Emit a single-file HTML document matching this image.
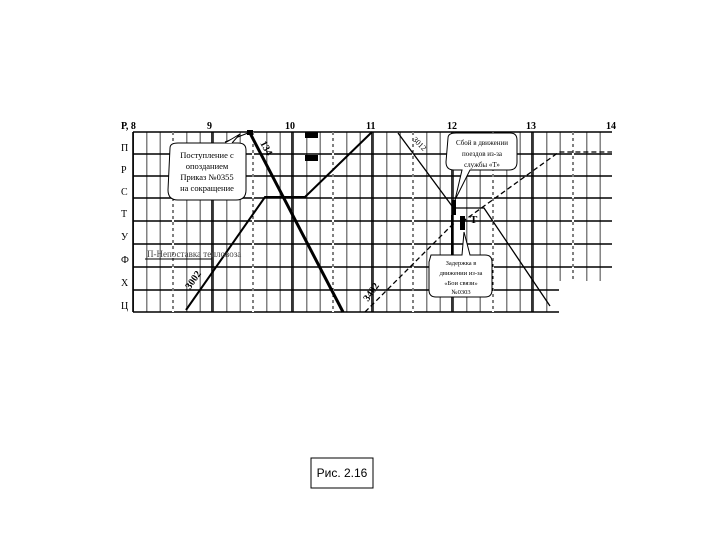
<!DOCTYPE html>
<html><head><meta charset="utf-8"><style>body{margin:0;background:#fff}svg{display:block}</style></head>
<body>
<svg width="720" height="540" viewBox="0 0 720 540" xmlns="http://www.w3.org/2000/svg" font-family="Liberation Serif, serif">
<defs>
<pattern id="v" x="133" y="0" width="13.333" height="10" patternUnits="userSpaceOnUse">
<rect x="0" y="0" width="1" height="10" fill="#444"/>
</pattern>
</defs>
<rect x="133" y="132" width="479" height="180" fill="url(#v)"/>
<g stroke="#000" stroke-width="1.6">
<line x1="133" y1="132" x2="612" y2="132"/><line x1="133" y1="154" x2="612" y2="154"/>
<line x1="133" y1="176" x2="612" y2="176"/><line x1="133" y1="198" x2="612" y2="198"/>
<line x1="133" y1="221" x2="612" y2="221"/><line x1="133" y1="244" x2="612" y2="244"/>
<line x1="133" y1="267" x2="612" y2="267"/><line x1="133" y1="290" x2="612" y2="290"/>
<line x1="133" y1="312" x2="612" y2="312"/>
<line x1="133" y1="132" x2="133" y2="312"/><line x1="212" y1="132" x2="212" y2="312"/>
<line x1="292" y1="132" x2="292" y2="312"/><line x1="372" y1="132" x2="372" y2="312"/>
<line x1="452" y1="132" x2="452" y2="312"/><line x1="532" y1="132" x2="532" y2="312"/>
</g>
<g stroke="#fff" stroke-width="2">
<line x1="173" y1="132" x2="173" y2="312"/><line x1="253" y1="132" x2="253" y2="312"/>
<line x1="333" y1="132" x2="333" y2="312"/><line x1="413" y1="132" x2="413" y2="312"/>
<line x1="493" y1="132" x2="493" y2="312"/><line x1="573" y1="132" x2="573" y2="312"/>
</g>
<g stroke="#000" stroke-width="1" stroke-dasharray="3,3">
<line x1="173" y1="132" x2="173" y2="312"/><line x1="253" y1="132" x2="253" y2="312"/>
<line x1="333" y1="132" x2="333" y2="312"/><line x1="413" y1="132" x2="413" y2="312"/>
<line x1="493" y1="132" x2="493" y2="312"/><line x1="573" y1="132" x2="573" y2="312"/>
</g>
<rect x="559" y="281" width="60" height="40" fill="#fff"/>
<rect x="612" y="128" width="10" height="190" fill="#fff"/>
<g font-size="10" font-weight="bold">
<text x="207" y="129">9</text><text x="285" y="129">10</text><text x="366" y="129">11</text>
<text x="447" y="129">12</text><text x="526" y="129">13</text><text x="606" y="129">14</text>
<text x="121" y="129">Р, 8</text>
</g>
<g font-size="10">
<text x="121" y="151">П</text><text x="121" y="173">Р</text><text x="121" y="195">С</text>
<text x="121" y="217">Т</text><text x="121" y="240">У</text><text x="121" y="263">Ф</text>
<text x="121" y="286">Х</text><text x="121" y="309">Ц</text>
</g>
<!-- train lines -->
<polyline points="186,310 265,197 305,197 372,132" fill="none" stroke="#000" stroke-width="2"/>
<line x1="250" y1="133" x2="343" y2="312" stroke="#000" stroke-width="3"/>
<polyline points="398,133 452,206" fill="none" stroke="#000" stroke-width="1.3"/>
<polyline points="452,208 484,208 550,306" fill="none" stroke="#000" stroke-width="1.3"/>
<polyline points="365,312 455,222" fill="none" stroke="#000" stroke-width="1.3" stroke-dasharray="5,3"/>
<polyline points="462,222 559,152 612,152" fill="none" stroke="#000" stroke-width="1.3" stroke-dasharray="5,3"/>
<line x1="248" y1="133" x2="225" y2="142" stroke="#000" stroke-width="1"/>
<rect x="247" y="130" width="6" height="5" fill="#000"/>
<rect x="305" y="132" width="13" height="6" fill="#000"/>
<rect x="305" y="155" width="13" height="6" fill="#000"/>
<rect x="452" y="200" width="4" height="15" fill="#000"/>
<rect x="460" y="216" width="5" height="14" fill="#000"/>
<line x1="452" y1="215" x2="452" y2="262" stroke="#000" stroke-width="2"/>
<g font-size="10" font-weight="bold">
<text x="0" y="0" transform="translate(190,290) rotate(-55)">3002</text>
<text x="0" y="0" transform="translate(368,302) rotate(-55)">3402</text>
<text x="0" y="0" transform="translate(260,143) rotate(62)">134</text>
<text x="470" y="223" font-size="11">Т</text>
</g>
<text x="0" y="0" font-size="8" transform="translate(412,140) rotate(45)">3012</text>
<text x="147" y="257" font-size="9" fill="#444">П-Непоставка тепловоза</text>
<line x1="145" y1="259" x2="212" y2="259" stroke="#000"/>
<!-- callouts -->
<path d="M170,148 Q170,143 178,143 L238,143 Q246,143 246,150 L246,190 Q246,200 236,200 L178,200 Q168,200 168,190 Z" fill="#fff" stroke="#000"/>
<path d="M225,143 L240,134 L232,143" fill="#fff" stroke="#000"/>
<g font-size="8.5" text-anchor="middle"><text x="207" y="158">Поступление с</text><text x="207" y="169">опозданием</text><text x="207" y="180">Приказ №0355</text><text x="207" y="191">на сокращение</text></g>
<path d="M448,138 Q448,133 456,133 L510,133 Q517,133 517,140 L517,162 Q517,170 509,170 L470,170 L455,200 L462,170 L454,170 Q446,170 446,162 Z" fill="#fff" stroke="#000"/>
<g font-size="7" text-anchor="middle"><text x="482" y="145">Сбой в движении</text><text x="482" y="156">поездов из-за</text><text x="482" y="167">службы «Т»</text></g>
<path d="M431,255 L462,255 L464,232 L470,255 L485,255 Q492,255 492,262 L492,290 Q492,297 485,297 L436,297 Q429,297 429,290 L429,262 Z" fill="#fff" stroke="#000"/>
<g font-size="6.5" text-anchor="middle"><text x="461" y="265">Задержка в</text><text x="461" y="275">движении из-за</text><text x="461" y="285">«Бои связи»</text><text x="461" y="294">№0303</text></g>
<!-- caption -->
<rect x="311" y="458" width="62" height="30" fill="#fff" stroke="#000"/>
<text x="342" y="477" font-family="Liberation Sans, sans-serif" font-size="12" text-anchor="middle">Рис. 2.16</text>
</svg>
</body></html>
